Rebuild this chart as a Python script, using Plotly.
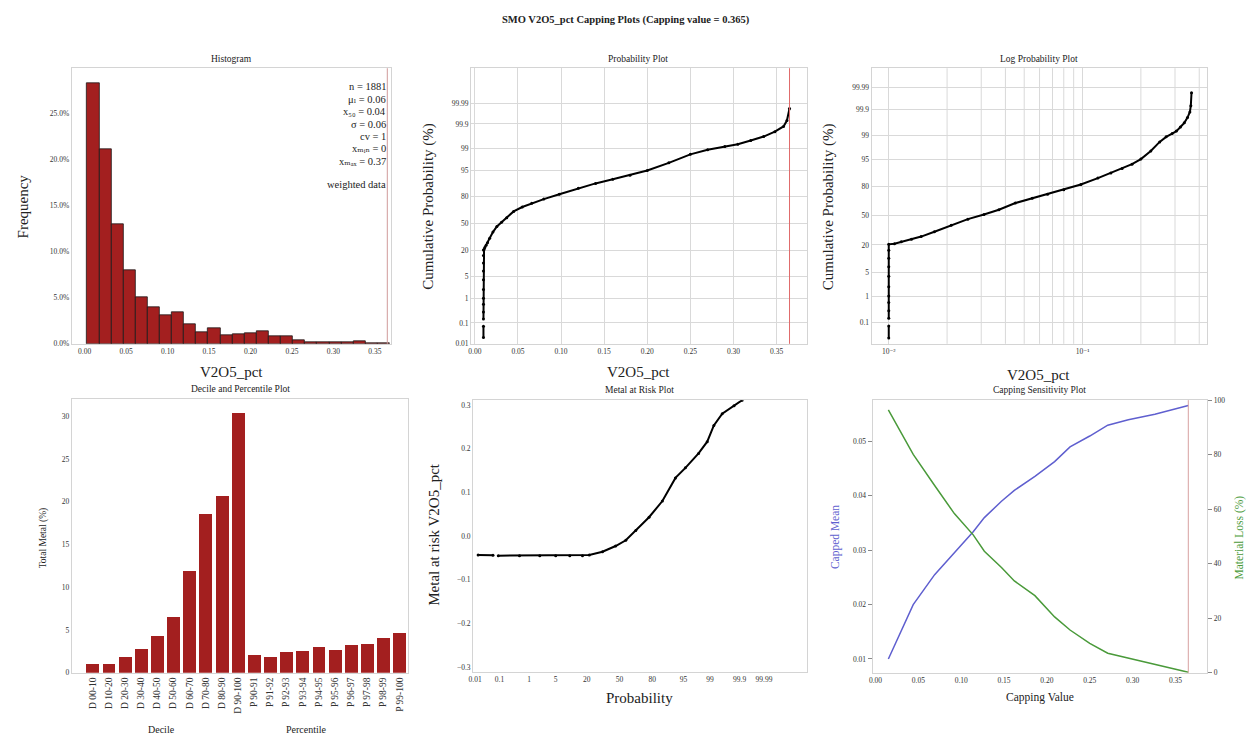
import plotly.graph_objects as go
from statistics import NormalDist

W, H = 1246, 744
_nd = NormalDist()


def zq(p):
    return None if p is None else _nd.inv_cdf(p / 100.0)


# ---------------- data ----------------
main_title = "SMO V2O5_pct Capping Plots (Capping value = 0.365)"
cap_value = 0.365

hist_bin_start = 0.003
hist_bin_width = 0.0146
hist_freq_pct = [28.3, 21.1, 13.0, 8.0, 5.1, 4.0, 3.1, 3.4, 2.1, 1.25, 1.7, 0.9, 1.07,
                 1.14, 1.36, 0.82, 0.79, 0.36, 0.18, 0.18, 0.14, 0.18, 0.25, 0.1, 0.1]
hist_yticks = [0, 5, 10, 15, 20, 25]
hist_ytick_text = ["0.0%", "5.0%", "10.0%", "15.0%", "20.0%", "25.0%"]
stats_lines = ["n = 1881", "μₗ = 0.06", "x₅₀ = 0.04", "σ = 0.06",
               "cv = 1", "xₘᵢₙ = 0", "xₘₐₓ = 0.37"]
stats_note = "weighted data"

# cumulative distribution (grade value, cumulative probability %)
cdf_value = [0.01, 0.01, None, 0.01, 0.01, 0.01, 0.01, 0.01, 0.01, 0.01, 0.01, 0.01, 0.01,
             0.0107, 0.0116, 0.0131, 0.0147, 0.0172, 0.021, 0.0256, 0.031, 0.037, 0.045,
             0.055, 0.066, 0.08, 0.098, 0.12, 0.14, 0.16, 0.18, 0.20, 0.225, 0.25, 0.27,
             0.29, 0.305, 0.32, 0.335, 0.348, 0.358, 0.362, 0.365]
cdf_prob = [0.02, 0.07, None, 0.15, 0.3, 0.6, 1, 2, 4, 7, 11, 16, 20.5,
            21, 22.7, 24.8, 27.4, 32.3, 39.4, 46.2, 51.5, 57, 64.5,
            69.5, 73.5, 77.5, 81.8, 86.3, 89.3, 91.5, 93.3, 95.0, 97.0, 98.4, 98.9,
            99.15, 99.3, 99.5, 99.65, 99.78, 99.87, 99.93, 99.982]
prob_ticks = [0.01, 0.1, 1, 5, 20, 50, 80, 95, 99, 99.9, 99.99]
prob_tick_text = ["0.01", "0.1", "1", "5", "20", "50", "80", "95", "99", "99.9", "99.99"]
log_major = [0.01, 0.1]
log_major_text = ["10⁻²", "10⁻¹"]
log_minor = [0.02, 0.03, 0.04, 0.05, 0.06, 0.07, 0.08, 0.09, 0.2, 0.3, 0.4]

# metal at risk
mar_prob = [0.0136, 0.056, None, 0.09, 0.5, 2, 5, 10, 17, 21.8, 33, 46, 56.4, 66.2, 77.6,
            86.5, 92.5, 95.5, 97.9, 98.8, 99.24, 99.59, 99.84, 99.92]
mar_value = [-0.0436, -0.044, None, -0.045, -0.045, -0.045, -0.045, -0.045, -0.045, -0.0436,
             -0.036, -0.023, -0.0098, 0.0128, 0.043, 0.08, 0.133, 0.156, 0.189, 0.216,
             0.253, 0.28, 0.298, 0.311]

# decile / percentile
decile_labels = ["D 00-10", "D 10-20", "D 20-30", "D 30-40", "D 40-50", "D 50-60",
                 "D 60-70", "D 70-80", "D 80-90", "D 90-100",
                 "P 90-91", "P 91-92", "P 92-93", "P 93-94", "P 94-95", "P 95-96",
                 "P 96-97", "P 97-98", "P 98-99", "P 99-100"]
decile_metal = [1.04, 1.0, 1.8, 2.76, 4.3, 6.5, 11.9, 18.6, 20.6, 30.4,
                2.07, 1.8, 2.45, 2.53, 2.95, 2.69, 3.22, 3.3, 4.03, 4.6]

# capping sensitivity
cap_x = [0.015, 0.044, 0.069, 0.092, 0.114, 0.127, 0.147, 0.162, 0.186, 0.209, 0.227,
         0.25, 0.271, 0.295, 0.326, 0.365]
cap_mean = [0.0100, 0.0200, 0.0255, 0.0296, 0.0334, 0.0360, 0.0390, 0.0410, 0.0436,
            0.0463, 0.0490, 0.0510, 0.0530, 0.0540, 0.0550, 0.0566]
cap_loss = [96.4, 80.1, 68.7, 58.4, 50.6, 44.6, 38.6, 33.7, 28.3, 20.5, 15.7, 10.8, 7.2,
            5.4, 3.0, 0.2]

# ---------------- styling ----------------
FONT = "Liberation Serif, Times New Roman, DejaVu Serif, serif"
RED = "#a31f1f"
FRAME = "#d4d4d4"
GRID = "#d9d9d9"
CAPLINE = "#e06a6a"
BLUE = "#5f5fcf"
GREEN = "#4a9a3a"
TICKF = dict(family=FONT, size=7.5, color="#333")


def dx(l, r):
    return [l / W, r / W]


def dy(t, b):
    return [1 - b / H, 1 - t / H]


def px(x):
    return x / W


def py(y):
    return 1 - y / H


fig = go.Figure()

# 1. Histogram
hist_centers = [hist_bin_start + (i + 0.5) * hist_bin_width for i in range(len(hist_freq_pct))]
fig.add_trace(go.Bar(x=hist_centers, y=hist_freq_pct, width=hist_bin_width,
                     marker=dict(color=RED, line=dict(color="#1a1a1a", width=0.8)),
                     xaxis="x", yaxis="y", showlegend=False))

# 2. Probability plot
cdf_z = [zq(p) for p in cdf_prob]
fig.add_trace(go.Scatter(x=cdf_value, y=cdf_z, mode="lines+markers",
                         line=dict(color="black", width=2),
                         marker=dict(color="black", size=3),
                         xaxis="x2", yaxis="y2", showlegend=False))

# 3. Log probability plot
fig.add_trace(go.Scatter(x=cdf_value, y=cdf_z, mode="lines+markers",
                         line=dict(color="black", width=2),
                         marker=dict(color="black", size=3),
                         xaxis="x3", yaxis="y3", showlegend=False))

# 4. Decile plot
fig.add_trace(go.Bar(x=list(range(len(decile_labels))), y=decile_metal, width=0.8,
                     marker=dict(color=RED, line=dict(width=0)),
                     xaxis="x4", yaxis="y4", showlegend=False))

# 5. Metal at risk
fig.add_trace(go.Scatter(x=[zq(p) for p in mar_prob], y=mar_value, mode="lines+markers",
                         line=dict(color="black", width=2),
                         marker=dict(color="black", size=3),
                         xaxis="x5", yaxis="y5", showlegend=False))

# 6. Capping sensitivity
fig.add_trace(go.Scatter(x=cap_x, y=cap_mean, mode="lines", line=dict(color=BLUE, width=1.5),
                         xaxis="x6", yaxis="y6", showlegend=False))
fig.add_trace(go.Scatter(x=cap_x, y=cap_loss, mode="lines", line=dict(color=GREEN, width=1.5),
                         xaxis="x6", yaxis="y7", showlegend=False))

# capping-value markers and minor log gridlines
shapes = []
for xr, yr, col in [("x", "y domain", "#d09a9a"), ("x2", "y2 domain", CAPLINE),
                    ("x6", "y6 domain", "#d8a0a0")]:
    shapes.append(dict(type="line", xref=xr, yref=yr, x0=cap_value, x1=cap_value, y0=0, y1=1,
                       line=dict(color=col, width=1), layer="above"))
for v in log_minor:
    shapes.append(dict(type="line", xref="x3", yref="y3 domain", x0=v, x1=v, y0=0, y1=1,
                       line=dict(color=GRID, width=1), layer="below"))

base_ax = dict(showline=True, mirror=True, linecolor=FRAME, linewidth=1, ticks="",
               tickfont=TICKF, zeroline=False, showgrid=False)

prob_tickvals = [zq(p) for p in prob_ticks]

fig.update_layout(
    width=W, height=H, margin=dict(l=0, r=0, t=0, b=0),
    paper_bgcolor="white", plot_bgcolor="white",
    font=dict(family=FONT, color="#222"),
    bargap=0, shapes=shapes,
    xaxis=dict(base_ax, domain=dx(67, 388), range=[-0.0156, 0.37],
               tickvals=[0, 0.05, 0.1, 0.15, 0.2, 0.25, 0.3, 0.35], tickformat=".2f", anchor="y"),
    yaxis=dict(base_ax, domain=dy(65, 344), range=[0, 29.9],
               tickvals=hist_yticks, ticktext=hist_ytick_text, anchor="x"),
    xaxis2=dict(base_ax, domain=dx(468, 805), range=[-0.0043, 0.385], showgrid=True,
                gridcolor=GRID, tickvals=[0, 0.05, 0.1, 0.15, 0.2, 0.25, 0.3, 0.35],
                tickformat=".2f", anchor="y2"),
    yaxis2=dict(base_ax, domain=dy(65, 344), range=[-3.74, 4.82], showgrid=True,
                gridcolor=GRID, tickvals=prob_tickvals, ticktext=prob_tick_text, anchor="x2"),
    xaxis3=dict(base_ax, domain=dx(870, 1207), type="log", range=[-2.089, -0.357],
                showgrid=True, gridcolor=GRID, tickvals=log_major, ticktext=log_major_text,
                anchor="y3"),
    yaxis3=dict(base_ax, domain=dy(65, 344), range=[-3.71, 4.28], showgrid=True,
                gridcolor=GRID, tickvals=prob_tickvals, ticktext=prob_tick_text, anchor="x3"),
    xaxis4=dict(base_ax, domain=dx(67, 405), range=[-1.29, 19.55],
                tickvals=list(range(len(decile_labels))), ticktext=decile_labels,
                tickangle=-90, tickfont=dict(family=FONT, size=9.5, color="#333"),
                anchor="y4"),
    yaxis4=dict(base_ax, domain=dy(400, 677), range=[0, 32],
                tickvals=[0, 5, 10, 15, 20, 25, 30], anchor="x4"),
    xaxis5=dict(base_ax, domain=dx(470, 805), range=[-3.77, 4.82],
                tickvals=prob_tickvals, ticktext=prob_tick_text, anchor="y5"),
    yaxis5=dict(base_ax, domain=dy(401, 676), range=[-0.311, 0.311],
                tickvals=[-0.3, -0.2, -0.1, 0, 0.1, 0.2, 0.3], tickformat=".1f", anchor="x5"),
    xaxis6=dict(base_ax, domain=dx(871, 1207), range=[-0.0035, 0.387],
                tickvals=[0, 0.05, 0.1, 0.15, 0.2, 0.25, 0.3, 0.35], tickformat=".2f",
                anchor="y6"),
    yaxis6=dict(base_ax, domain=dy(401, 677), range=[0.00745, 0.0576], ticks="outside",
                ticklen=4, tickcolor="#888", tickvals=[0.01, 0.02, 0.03, 0.04, 0.05],
                tickformat=".2f", anchor="x6"),
    yaxis7=dict(base_ax, domain=dy(401, 677), range=[0, 100], overlaying="y6", side="right",
                ticks="outside", ticklen=4, tickcolor="#888", tickvals=[0, 20, 40, 60, 80, 100],
                anchor="x6", mirror=False),
)

ann = []


def text(x, y, s, size, color="#222", angle=0, xanchor="center", yanchor="middle", bold=False):
    if bold:
        s = "<b>" + s + "</b>"
    ann.append(dict(x=px(x), y=py(y), xref="paper", yref="paper", text=s, showarrow=False,
                    font=dict(family=FONT, size=size, color=color), textangle=angle,
                    xanchor=xanchor, yanchor=yanchor))


text(623, 16, main_title, 10.5, bold=True)
# subplot titles
text(227, 56, "Histogram", 9.5)
text(636, 56, "Probability Plot", 9.5)
text(1038, 56, "Log Probability Plot", 9.5)
text(236, 390, "Decile and Percentile Plot", 9.5)
text(637, 391, "Metal at Risk Plot", 9.5)
text(1039, 391, "Capping Sensitivity Plot", 9.5)
# axis titles
text(18, 205, "Frequency", 15, angle=-90)
text(227, 372, "V2O5_pct", 15)
text(425, 205, "Cumulative Probability (%)", 15, angle=-90)
text(636, 373, "V2O5_pct", 15)
text(827, 205, "Cumulative Probability (%)", 15, angle=-90)
text(1038, 376, "V2O5_pct", 15)
text(39, 540, "Total Metal (%)", 9.5, angle=-90)
text(157, 734, "Decile", 10)
text(303, 734, "Percentile", 10)
text(430, 537, "Metal at risk V2O5_pct", 15, angle=-90)
text(637, 703, "Probability", 15)
text(834, 540, "Capped Mean", 11.5, color=BLUE, angle=-90)
text(1039, 702, "Capping Value", 11.5)
text(1239, 540, "Material Loss (%)", 11.5, color=GREEN, angle=-90)
# stats box
for i, s in enumerate(stats_lines):
    text(385, 84 + i * 12.5, s, 10.5, xanchor="right")
text(385, 183, stats_note, 10.5, xanchor="right")

fig.update_layout(annotations=ann)
fig.write_html("out.html")
